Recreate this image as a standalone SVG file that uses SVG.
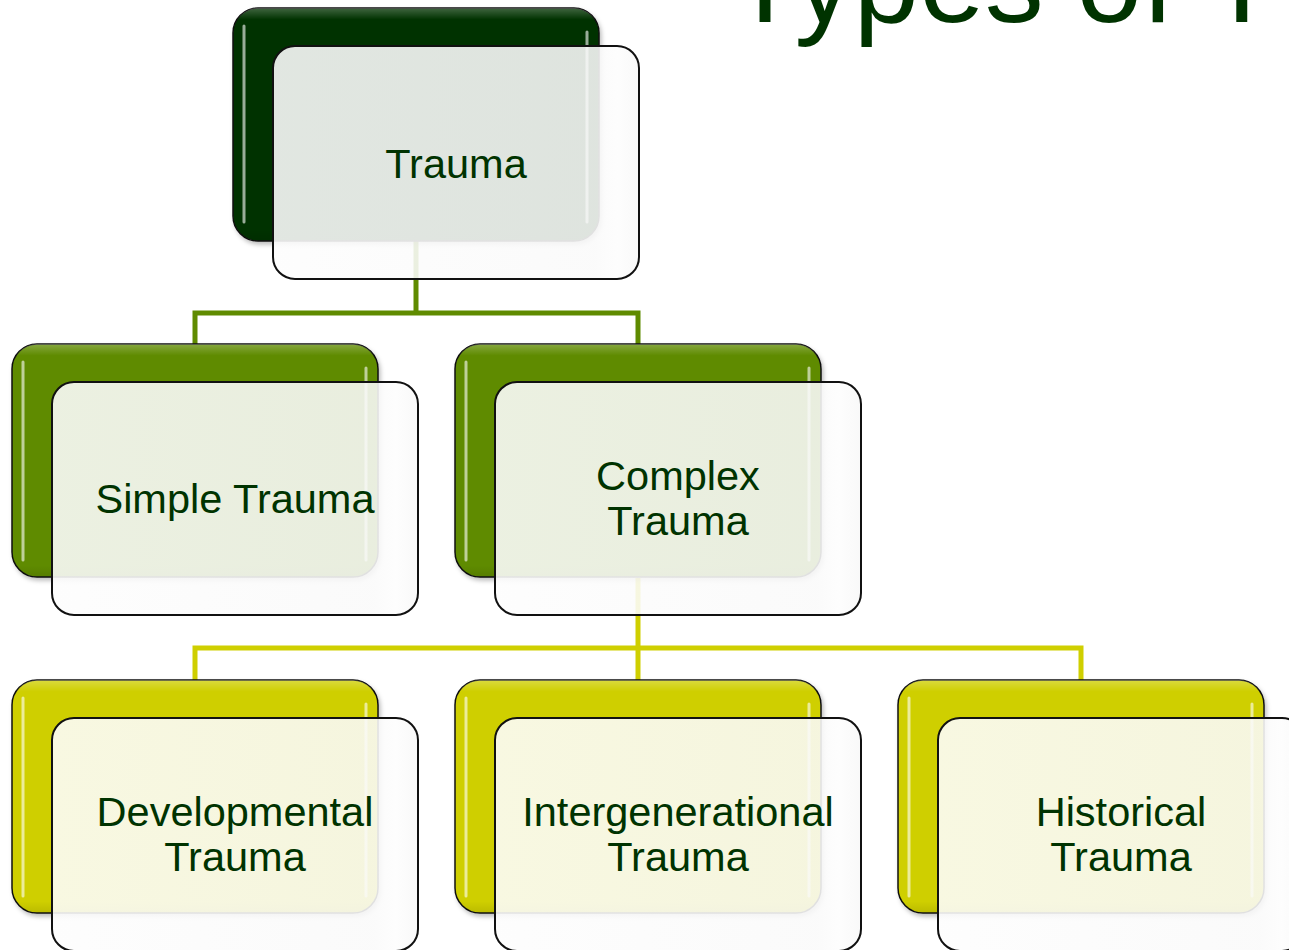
<svg xmlns="http://www.w3.org/2000/svg" width="1289" height="950" viewBox="0 0 1289 950">
<defs>
<linearGradient id="gloss" x1="0" y1="0" x2="0" y2="1">
<stop offset="0" stop-color="#fff" stop-opacity="0.25"/>
<stop offset="0.05" stop-color="#fff" stop-opacity="0"/>
<stop offset="0.95" stop-color="#000" stop-opacity="0"/>
<stop offset="1" stop-color="#000" stop-opacity="0.1"/>
</linearGradient>
<linearGradient id="frontg" x1="0" y1="0" x2="1" y2="0">
<stop offset="0" stop-color="#fdfdfd"/>
<stop offset="0.88" stop-color="#fafafa"/>
<stop offset="0.94" stop-color="#fdfdfd"/>
<stop offset="1" stop-color="#f8f8f8"/>
</linearGradient>
<filter id="sh" x="-5%" y="-5%" width="112%" height="115%">
<feDropShadow dx="2" dy="3" stdDeviation="2" flood-color="#000" flood-opacity="0.25"/>
</filter>
</defs>
<style>
.back{stroke:#111;stroke-width:1.5}
.b0{fill:#003300}
.b1{fill:#5f8b00}
.b2{fill:#cfcf00}
.gl{fill:url(#gloss);stroke:none}
.hl{stroke:#ffffff;stroke-opacity:0.6;stroke-width:3;stroke-linecap:round;fill:none}
.front{fill:url(#frontg);fill-opacity:0.89;stroke:#111;stroke-width:2}
.t{font-family:"Liberation Sans",Arial,sans-serif;font-size:41.5px;fill:#003300;text-anchor:middle}
.title{font-family:"Liberation Sans",Arial,sans-serif;font-size:118px;fill:#003300}
.c1{stroke:#5f8b00;stroke-width:5;fill:none;stroke-linejoin:miter}
.c2{stroke:#cfcf00;stroke-width:5;fill:none;stroke-linejoin:miter}
</style>
<rect width="1289" height="950" fill="#fff"/>
<text class="title" x="729" y="22">Types of T</text>
<g id="connectors">
<path class="c1" d="M416,241 V313 M195,344 V313 H638 V344"/>
<path class="c2" d="M638,578 V680 M195,680 V648 H1081 V680"/>
</g>
<g id="node-trauma">
<rect class="back b0" x="233" y="8" width="366" height="233" rx="25" filter="url(#sh)"/>
<rect class="gl" x="233" y="8" width="366" height="233" rx="25"/>
<line class="hl" x1="244" y1="26" x2="244" y2="222"/>
<line class="hl" x1="587" y1="32" x2="587" y2="222"/>
<rect class="front" x="273" y="46" width="366" height="233" rx="22"/>
<text class="t" x="456" y="178">Trauma</text>
</g>
<g id="node-simple">
<rect class="back b1" x="12" y="344" width="366" height="233" rx="25" filter="url(#sh)"/>
<rect class="gl" x="12" y="344" width="366" height="233" rx="25"/>
<line class="hl" x1="23" y1="362" x2="23" y2="560"/>
<line class="hl" x1="366" y1="368" x2="366" y2="560"/>
<rect class="front" x="52" y="382" width="366" height="233" rx="22"/>
<text class="t" x="235" y="513">Simple Trauma</text>
</g>
<g id="node-complex">
<rect class="back b1" x="455" y="344" width="366" height="233" rx="25" filter="url(#sh)"/>
<rect class="gl" x="455" y="344" width="366" height="233" rx="25"/>
<line class="hl" x1="466" y1="362" x2="466" y2="560"/>
<line class="hl" x1="809" y1="368" x2="809" y2="560"/>
<rect class="front" x="495" y="382" width="366" height="233" rx="22"/>
<text class="t" x="678" y="490">Complex</text>
<text class="t" x="678" y="535">Trauma</text>
</g>
<g id="node-developmental">
<rect class="back b2" x="12" y="680" width="366" height="233" rx="25" filter="url(#sh)"/>
<rect class="gl" x="12" y="680" width="366" height="233" rx="25"/>
<line class="hl" x1="23" y1="698" x2="23" y2="896"/>
<line class="hl" x1="366" y1="704" x2="366" y2="896"/>
<rect class="front" x="52" y="718" width="366" height="233" rx="22"/>
<text class="t" x="235" y="826">Developmental</text>
<text class="t" x="235" y="871">Trauma</text>
</g>
<g id="node-intergenerational">
<rect class="back b2" x="455" y="680" width="366" height="233" rx="25" filter="url(#sh)"/>
<rect class="gl" x="455" y="680" width="366" height="233" rx="25"/>
<line class="hl" x1="466" y1="698" x2="466" y2="896"/>
<line class="hl" x1="809" y1="704" x2="809" y2="896"/>
<rect class="front" x="495" y="718" width="366" height="233" rx="22"/>
<text class="t" x="678" y="826">Intergenerational</text>
<text class="t" x="678" y="871">Trauma</text>
</g>
<g id="node-historical">
<rect class="back b2" x="898" y="680" width="366" height="233" rx="25" filter="url(#sh)"/>
<rect class="gl" x="898" y="680" width="366" height="233" rx="25"/>
<line class="hl" x1="909" y1="698" x2="909" y2="896"/>
<line class="hl" x1="1252" y1="704" x2="1252" y2="896"/>
<rect class="front" x="938" y="718" width="366" height="233" rx="22"/>
<text class="t" x="1121" y="826">Historical</text>
<text class="t" x="1121" y="871">Trauma</text>
</g>
</svg>
